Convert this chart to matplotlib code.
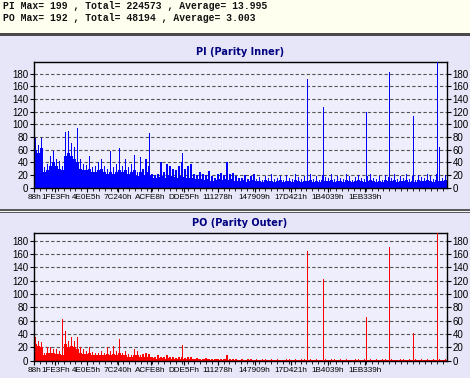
import numpy as np
import matplotlib
matplotlib.use("Agg")
import matplotlib.pyplot as plt
import matplotlib.transforms as mtransforms
from matplotlib.patches import Rectangle
from matplotlib.ticker import MultipleLocator

# header summary lines
header_lines = ["PI Max= 199 , Total= 224573 , Average= 13.995",
                "PO Max= 192 , Total= 48194 , Average= 3.003"]

# x axis: addresses (hex labels)
tick_labels = ["88h", "1FE3Fh", "4E0E5h", "7C240h", "ACFE8h", "DDE5Fh",
               "111278h", "147909h", "17D421h", "1B4039h", "1EB339h"]
tick_addr = [int(s[:-1], 16) for s in tick_labels]
addr_start = 0x88
addr_end = 2510000
bin_step = 0x4700

# PI (Parity Inner) - per bin: peak count and the solid floor under it
pi_peak = [78, 68, 78, 32, 38, 50, 58, 45, 42, 35, 88, 90, 70, 65, 95, 45, 38, 36, 50, 32,
           35, 40, 45, 35, 30, 58, 32, 38, 63, 35, 45, 32, 38, 52, 25, 48, 30, 45, 35, 22,
           20, 22, 40, 25, 38, 35, 30, 28, 35, 40, 30, 35, 38, 22, 20, 25, 22, 20, 27, 18,
           15, 22, 24, 20, 40, 22, 24, 18, 16,
           16, 20, 13, 18, 22, 14, 17, 12, 19, 15, 21, 13, 16, 18, 12, 20, 15, 14, 22, 17,
           13, 19, 16, 21, 14, 18, 12, 20, 17, 15, 22, 13, 19, 16, 14, 21, 18, 12, 17, 20,
           15, 13, 19, 22, 16, 14, 18, 12, 20, 17, 15, 21, 13, 19, 16, 22, 14, 18, 12, 20,
           17, 15, 21, 19, 14, 22, 18, 16, 20]
pi_floor = [60, 55, 62, 25, 28, 35, 40, 35, 30, 28, 50, 55, 50, 45, 40, 30, 28, 28, 30, 25,
            25, 28, 30, 25, 22, 25, 22, 25, 28, 25, 28, 22, 25, 28, 18, 25, 20, 25, 20, 16,
            15, 17, 18, 16, 20, 18, 17, 16, 18, 17, 15, 16, 15, 13, 12, 14, 13, 12, 14, 11,
            10, 12, 13, 12, 13, 12, 13, 11, 10,
            11, 12, 9, 11, 12, 10, 11, 9, 12, 10, 11, 9, 10, 12, 9, 11, 10, 9, 12, 11,
            9, 11, 10, 12, 9, 11, 9, 12, 10, 10, 12, 9, 11, 10, 9, 12, 11, 9, 10, 12,
            10, 9, 11, 12, 10, 9, 11, 9, 12, 10, 10, 12, 9, 11, 10, 12, 9, 11, 9, 12,
            10, 10, 12, 11, 9, 12, 11, 10, 12]
pi_spike_addr = [703200, 901400, 1173000, 1343200, 1464800, 1663500, 1758400,
                 2019700, 2159500, 2305400, 2451300, 2463500]
pi_spike_val = [87, 55, 40, 35, 65, 172, 127, 120, 182, 113, 199, 65]

# PO (Parity Outer)
po_peak = [35, 30, 28, 12, 20, 20, 18, 17, 15, 12, 45, 30, 35, 30, 35, 20, 18, 15, 20, 13,
           12, 12, 14, 12, 20, 15, 22, 15, 32, 12, 14, 10, 8, 18, 14, 8, 10, 12, 10, 6,
           5, 8, 6, 5, 8, 5, 6, 4, 6, 5, 4, 6, 5, 3, 4, 3, 2, 4, 3, 2,
           2, 3, 2, 2, 8, 2, 3, 2, 1,
           2, 1, 2, 3, 1, 2, 1, 2, 2, 1, 3, 1, 2, 1, 1, 2, 3, 1, 2, 1,
           2, 2, 1, 3, 1, 2, 1, 1, 2, 1, 2, 3, 1, 2, 1, 2, 1, 1, 2, 2,
           1, 3, 1, 2, 1, 2, 1, 2, 3, 1, 2, 1, 1, 2, 2, 1, 3, 1, 2, 1,
           2, 1, 2, 1, 3, 1, 2, 1, 2]
po_floor = [25, 22, 20, 8, 12, 12, 12, 10, 10, 8, 25, 20, 22, 20, 18, 12, 10, 10, 12, 8,
            8, 8, 8, 8, 10, 8, 10, 8, 12, 8, 8, 6, 5, 8, 8, 5, 6, 6, 6, 4,
            3, 4, 4, 3, 4, 3, 3, 2, 3, 3, 2, 3, 3, 2, 2, 2, 1, 2, 2, 1,
            1, 2, 1, 1, 2, 1, 1, 1, 1,
            1, 1, 1, 1, 1, 1, 1, 1, 1, 1, 1, 1, 1, 1, 1, 1, 1, 1, 1, 1,
            1, 1, 1, 1, 1, 1, 1, 1, 1, 1, 1, 1, 1, 1, 1, 1, 1, 1, 1, 1,
            1, 1, 1, 1, 1, 1, 1, 1, 1, 1, 1, 1, 1, 1, 1, 1, 1, 1, 1, 1,
            1, 1, 1, 1, 1, 1, 1, 1, 1]
po_spike_addr = [174400, 273500, 705000, 903800, 1173000, 1464800, 1663500,
                 1758400, 2019700, 2159500, 2305400, 2453700]
po_spike_val = [62, 47, 44, 23, 12, 17, 165, 122, 65, 170, 42, 192]

W, H = 470, 378
fig = plt.figure(figsize=(W / 100, H / 100), dpi=100)

def band(y0, y1, color):
    fig.add_artist(Rectangle((0, 1 - y1 / H), 1, (y1 - y0) / H, transform=fig.transFigure,
                             facecolor=color, edgecolor="none", zorder=-10))

band(0, 33, "#FFFFF0")
band(33, 36, "#4A4A4A")
band(36, 209, "#E6E6F8")
band(209, 210.5, "#5A5A5A")
band(210.5, 211.5, "#F4F4FC")
band(211.5, 213, "#5A5A5A")
band(213, 378, "#E6E6F8")

for k, line in enumerate(header_lines):
    fig.text(3 / W, 1 - (6 + 12 * k) / H, line, family=["Liberation Mono", "DejaVu Sans Mono"],
             fontsize=7, fontweight="bold", va="center", ha="left", color="#111111")

sans = ["Liberation Sans", "DejaVu Sans"]

def panel(top, bottom, title, title_y, peak, floor, sp_addr, sp_val, color, ymax):
    ax = fig.add_axes([34 / W, 1 - bottom / H, (447 - 34) / W, (bottom - top) / H])
    ax.set_facecolor("#EEEEFC")
    xs = addr_start + bin_step * np.arange(len(peak))
    ax.bar(xs, floor, width=bin_step, align="edge", color=color, linewidth=0, zorder=2)
    ax.bar(xs + bin_step * 0.5, peak, width=bin_step * 0.45, color=color, linewidth=0, zorder=2)
    ax.bar(sp_addr, sp_val, width=5500, color=color, linewidth=0, zorder=3)
    ax.set_xlim(addr_start, addr_end)
    ax.set_ylim(0, ymax)
    ax.set_yticks(range(0, 181, 20))
    ax.yaxis.grid(True, linestyle=(0, (3, 2)), color="#555555", linewidth=0.8, zorder=1)
    ax.set_axisbelow(True)
    ax.set_xticks(tick_addr)
    ax.set_xticklabels(tick_labels, family=sans, fontsize=5.9)
    # nudge the first label a bit so it doesn't collide with the second
    first = ax.get_xticklabels()[0]
    first.set_transform(first.get_transform() +
                        mtransforms.ScaledTranslation(-2 / 100, 0, fig.dpi_scale_trans))
    ax.xaxis.set_minor_locator(MultipleLocator(36000))
    ax.tick_params(axis="x", which="major", length=3, pad=1.5)
    ax.tick_params(axis="x", which="minor", length=2)
    ax.tick_params(axis="y", left=True, right=True, labelleft=True, labelright=True,
                   length=3, pad=1, labelsize=7)
    for lab in ax.get_yticklabels():
        lab.set_family(sans)
    for s in ax.spines.values():
        s.set_linewidth(1.0)
    fig.text(240 / W, 1 - title_y / H, title, ha="center", va="center", fontsize=7,
             fontweight="bold", color="#000080", family=["DejaVu Sans"])
    return ax

panel(61.7, 187.7, "PI (Parity Inner)", 51.7, pi_peak, pi_floor,
      pi_spike_addr, pi_spike_val, "#0000FF", 199)
panel(232.7, 360.7, "PO (Parity Outer)", 223.3, po_peak, po_floor,
      po_spike_addr, po_spike_val, "#FF0000", 192)

fig.savefig("out.png", dpi=100)
